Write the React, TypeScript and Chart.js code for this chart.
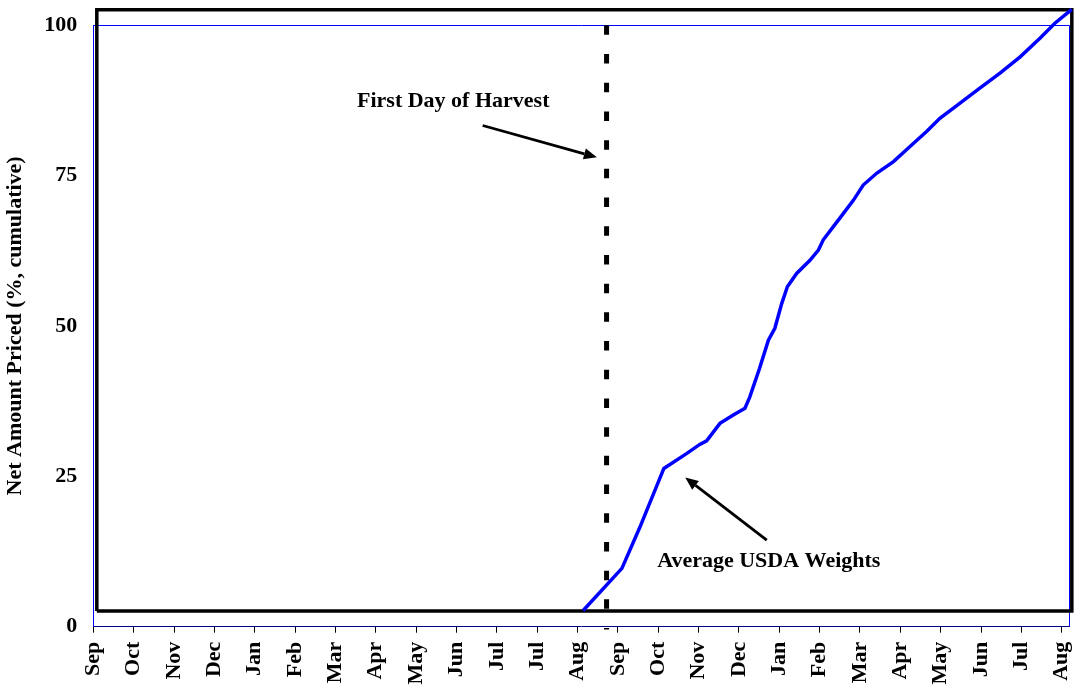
import React, { useEffect, useRef } from "react";
import { Chart, registerables } from "chart.js";

Chart.register(...registerables);

// Month tick labels (index = months elapsed)
const monthLabels = [
  "Sep", "Oct", "Nov", "Dec", "Jan", "Feb", "Mar", "Apr", "May", "Jun", "Jul", "Jul",
  "Aug", "Sep", "Oct", "Nov", "Dec", "Jan", "Feb", "Mar", "Apr", "May", "Jun", "Jul", "Aug",
];
const yTicks = [0, 25, 50, 75, 100];
const xMax = 24.18;

// Average USDA weights series (months elapsed, cumulative %)
const usdaX = [
  12.14, 13.1, 13.55, 14.14, 14.71, 15.03, 15.2, 15.53, 15.86, 16.15, 16.27, 16.51, 16.73,
  16.89, 17.06, 17.2, 17.43, 17.76, 17.97, 18.09, 18.34, 18.59, 18.84, 19.08, 19.42, 19.83,
  20.24, 20.65, 20.98, 21.48, 21.97, 22.47, 22.97, 23.46, 23.83, 24.25,
];
const usdaY = [
  2.7, 9.7, 16.6, 26.3, 28.8, 30.3, 30.9, 33.8, 35.2, 36.3, 38.2, 42.9, 47.6,
  49.6, 53.7, 56.5, 58.7, 60.9, 62.6, 64.3, 66.5, 68.7, 70.9, 73.4, 75.4, 77.3,
  79.8, 82.3, 84.5, 87.0, 89.5, 92.0, 94.7, 97.8, 100.3, 102.6,
];

// Black outline series
const frameX = [0.087, 0.087, 24.25, 24.25, 0.087];
const frameY = [2.6, 102.55, 102.55, 2.6, 2.6];

// First day of harvest marker
const harvestX = [12.72, 12.72];
const harvestY = [-0.47, 100.9];

// Annotations
const harvestLabel = { text: "First Day of Harvest", x: 8.92, y: 86.4 };
const harvestArrow = { fromX: 9.65, fromY: 83.3, toX: 12.48, toY: 78.0 };
const usdaLabel = { text: "Average USDA Weights", x: 16.74, y: 9.87 };
const usdaArrow = { fromX: 16.69, fromY: 14.4, toX: 14.67, toY: 24.8 };

const FONT = "'Liberation Serif', 'Times New Roman', serif";

const zip = (xs: number[], ys: number[]) => xs.map((x, i) => ({ x, y: ys[i] }));

const annotationPlugin = {
  id: "annotations",
  beforeDatasetsDraw(chart: any) {
    const { ctx, chartArea } = chart;
    ctx.save();
    ctx.strokeStyle = "#0000FF";
    ctx.lineWidth = 1;
    ctx.beginPath();
    ctx.moveTo(chartArea.left, chartArea.top + 0.5);
    ctx.lineTo(chartArea.right + 0.5, chartArea.top + 0.5);
    ctx.lineTo(chartArea.right + 0.5, chartArea.bottom);
    ctx.stroke();
    ctx.restore();
  },
  afterDatasetsDraw(chart: any) {
    const { ctx } = chart;
    const xs = chart.scales.x;
    const ys = chart.scales.y;
    ctx.save();
    ctx.fillStyle = "#000";
    ctx.font = `bold 22px ${FONT}`;
    ctx.textAlign = "center";
    ctx.textBaseline = "alphabetic";
    for (const l of [harvestLabel, usdaLabel]) {
      ctx.fillText(l.text, xs.getPixelForValue(l.x), ys.getPixelForValue(l.y));
    }
    for (const a of [harvestArrow, usdaArrow]) {
      const x1 = xs.getPixelForValue(a.fromX);
      const y1 = ys.getPixelForValue(a.fromY);
      const x2 = xs.getPixelForValue(a.toX);
      const y2 = ys.getPixelForValue(a.toY);
      const ang = Math.atan2(y2 - y1, x2 - x1);
      const headLen = 13;
      const headW = 5.5;
      const bx = x2 - headLen * Math.cos(ang);
      const by = y2 - headLen * Math.sin(ang);
      ctx.strokeStyle = "#000";
      ctx.lineWidth = 2.8;
      ctx.beginPath();
      ctx.moveTo(x1, y1);
      ctx.lineTo(bx, by);
      ctx.stroke();
      ctx.beginPath();
      ctx.moveTo(x2, y2);
      ctx.lineTo(bx + headW * Math.sin(ang), by - headW * Math.cos(ang));
      ctx.lineTo(bx - headW * Math.sin(ang), by + headW * Math.cos(ang));
      ctx.closePath();
      ctx.fill();
    }
    ctx.restore();
  },
};

export default function App() {
  const canvasRef = useRef<HTMLCanvasElement | null>(null);

  useEffect(() => {
    const canvas = canvasRef.current;
    if (!canvas) return;
    const chart = new Chart(canvas, {
      type: "scatter",
      data: {
        datasets: [
          {
            label: "Average USDA Weights",
            data: zip(usdaX, usdaY),
            showLine: true,
            borderColor: "#0000FF",
            borderWidth: 3.5,
            pointRadius: 0,
            tension: 0,
            clip: false,
            order: 0,
          },
          {
            label: "First Day of Harvest",
            data: zip(harvestX, harvestY),
            showLine: true,
            borderColor: "#000",
            borderWidth: 5,
            borderDash: [9.5, 19.2],
            borderDashOffset: 8,
            pointRadius: 0,
            clip: false,
            order: 1,
          },
          {
            label: "frame",
            data: zip(frameX, frameY),
            showLine: true,
            borderColor: "#000",
            borderWidth: 3.5,
            pointRadius: 0,
            clip: false,
            order: 2,
          },
        ] as any,
      },
      options: {
        animation: false,
        responsive: false,
        events: [],
        layout: { padding: { top: 25, right: 7, left: 0, bottom: 0 } },
        plugins: { legend: { display: false }, tooltip: { enabled: false } },
        scales: {
          x: {
            type: "linear",
            min: 0,
            max: xMax,
            afterFit: (s: any) => {
              s.height = 61.3;
              s.paddingLeft = 0;
              s.paddingRight = 0;
            },
            afterBuildTicks: (s: any) => {
              s.ticks = monthLabels.map((_, i) => ({ value: i }));
            },
            border: { color: "#000080", width: 1 },
            grid: {
              drawOnChartArea: false,
              drawTicks: true,
              tickLength: 6,
              tickColor: "#000",
            },
            ticks: {
              autoSkip: false,
              minRotation: 90,
              maxRotation: 90,
              padding: 9,
              color: "#000",
              font: { family: FONT, size: 22, weight: "bold" },
              callback: (v: any) => monthLabels[Math.round(Number(v))] ?? "",
            },
          },
          y: {
            type: "linear",
            min: 0,
            max: 100,
            afterFit: (s: any) => {
              s.width = 93.3;
              s.paddingTop = 0;
              s.paddingBottom = 0;
            },
            afterBuildTicks: (s: any) => {
              s.ticks = yTicks.map((v) => ({ value: v }));
            },
            border: { color: "#0000FF", width: 1 },
            grid: { drawOnChartArea: false, drawTicks: false },
            ticks: {
              padding: 16,
              color: "#000",
              font: { family: FONT, size: 22, weight: "bold" },
            },
            title: {
              display: true,
              text: "Net Amount Priced (%, cumulative)",
              color: "#000",
              padding: { top: 2, bottom: 0 },
              font: { family: FONT, size: 22, weight: "bold" },
            },
          },
        },
      },
      plugins: [annotationPlugin],
    });
    return () => chart.destroy();
  }, []);

  return (
    <div style={{ position: "fixed", left: 0, top: 0, width: 1076, height: 688, background: "#fff" }}>
      <canvas ref={canvasRef} width={1076} height={688} style={{ display: "block" }} />
    </div>
  );
}
